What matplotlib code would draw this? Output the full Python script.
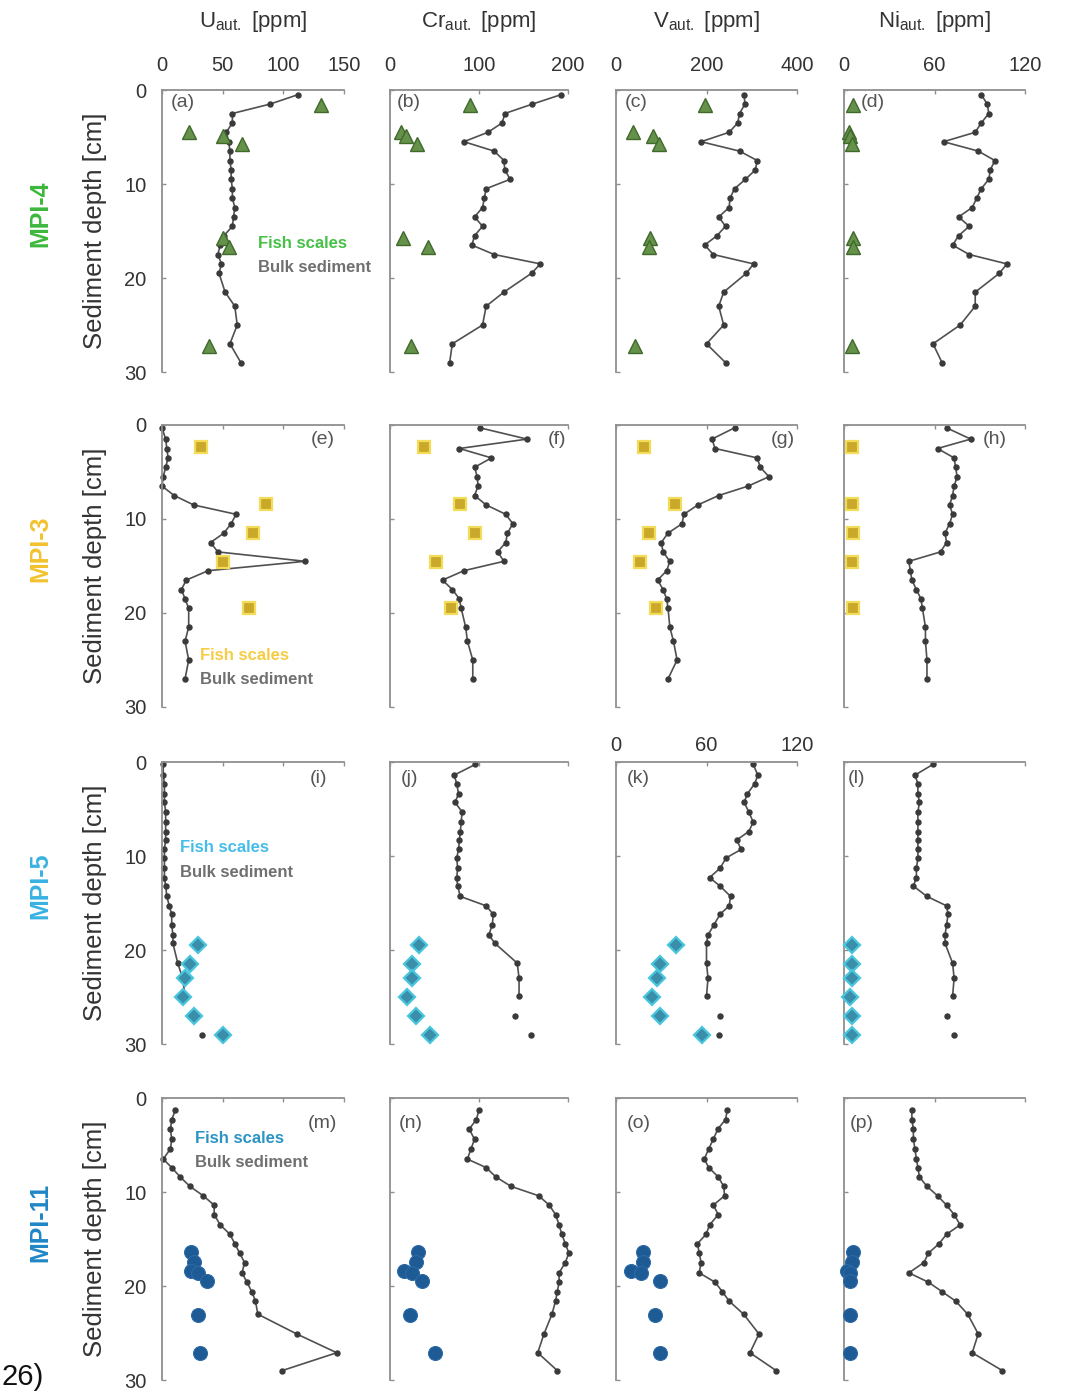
"""
Authigenic U, Cr, V and Ni depth profiles for four cores:
fish scales vs bulk sediment.
"""
import matplotlib.pyplot as plt

plt.rcParams['font.family'] = ['Liberation Sans', 'DejaVu Sans']
plt.rcParams['mathtext.fontset'] = 'custom'
plt.rcParams['mathtext.rm'] = 'Liberation Sans'

# ---- MPI-4 -------------------------------------------------------------
depth4 = [0.5, 1.5, 2.5, 3.5, 4.5, 5.5, 6.5, 7.5, 8.5, 9.5, 10.5, 11.5, 12.5,
          13.5, 14.5, 15.5, 16.5, 17.5, 18.5, 19.5, 21.5, 23, 25, 27, 29]
u4 = [112, 89, 58, 58, 53, 55, 56, 56, 57, 57, 58, 58, 60, 59, 58, 51, 48, 46,
      49, 47, 52, 60, 62, 56, 65]
cr4 = [192, 160, 129, 126, 110, 83, 117, 128, 129, 135, 108, 106, 104, 95, 104,
       95, 92, 117, 169, 159, 128, 108, 104, 70, 67]
v4 = [283, 285, 273, 269, 250, 188, 273, 312, 308, 286, 262, 252, 250, 227, 242,
      223, 196, 215, 304, 288, 238, 227, 238, 200, 242]
ni4 = [91, 95, 96, 91, 87, 66, 89, 100, 97, 96, 91, 88, 85, 76, 83, 76, 72, 83,
       108, 103, 87, 87, 77, 59, 65]
fish4_depth = [1.6, 4.5, 4.9, 5.7, 15.7, 16.7, 27.2]
fish4_u = [131, 22, 50, 66, 50, 55, 39]
fish4_cr = [90, 12, 18, 30, 15, 43, 24]
fish4_v = [196, 38, 81, 96, 75, 73, 42]
fish4_ni = [6, 3, 4, 5, 6, 6, 5]

# ---- MPI-3 -------------------------------------------------------------
depth3 = [0.3, 1.5, 2.5, 3.5, 4.5, 5.5, 6.5, 7.5, 8.5, 9.5, 10.5, 11.5, 12.5,
          13.5, 14.5, 15.5, 16.5, 17.5, 18.5, 19.5, 21.5, 23, 25, 27]
u3 = [0, 3, 4, 5, 3, 1, 0, 10, 26, 61, 57, 51, 40, 46, 118, 38, 20, 16, 19, 22,
      22, 19, 22, 19]
cr3 = [101, 154, 78, 114, 95, 98, 99, 95, 108, 130, 138, 132, 130, 121, 128, 83,
       59, 70, 78, 80, 85, 87, 93, 93]
v3 = [262, 212, 219, 312, 319, 338, 292, 227, 181, 150, 146, 115, 100, 104, 119,
      112, 92, 104, 112, 115, 119, 127, 135, 115]
ni3 = [68, 84, 62, 73, 74, 75, 73, 72, 70, 72, 70, 67, 68, 64, 43, 44, 45, 48,
       51, 52, 54, 54, 55, 55]
fish3_depth = [2.3, 8.4, 11.5, 14.6, 19.5]
fish3_u = [32, 86, 75, 50, 72]
fish3_cr = [38, 79, 96, 52, 68]
fish3_v = [62, 131, 73, 54, 88]
fish3_ni = [5, 5, 6, 5, 6]

# ---- MPI-5 -------------------------------------------------------------
depth5 = [0.25, 1.4, 2.3, 3.4, 4.3, 5.3, 6.4, 7.4, 8.3, 9.3, 10.2, 11.3, 12.3,
          13.2, 14.3, 15.3, 16.2, 17.3, 18.4, 19.3, 21.4, 23.0, 24.9]
u5 = [1, 1, 2, 2, 2, 3, 3, 3, 3, 2, 2, 2, 2, 3, 4, 6, 8, 8, 9, 9, 13, 17, 19]
cr5 = [96, 72, 75, 77, 73, 81, 80, 79, 78, 77, 75, 76, 75, 76, 79, 108, 116,
       115, 111, 118, 143, 145, 145]
v5 = [91, 94, 92, 87, 85, 88, 91, 88, 80, 83, 73, 69, 62, 69, 76, 75, 69, 65,
      61, 60, 60, 61, 60]
ni5 = [59, 47, 49, 49, 50, 49, 49, 49, 49, 49, 49, 48, 48, 46, 55, 68, 69, 68,
       67, 67, 72, 73, 72]
# two deepest bulk samples are plotted unconnected
depth5_iso = [27.0, 29.0]
u5_iso = [26, 33]
cr5_iso = [140, 158]
v5_iso = [69, 68]
ni5_iso = [68, 73]
fish5_depth = [19.5, 21.5, 23.0, 25.0, 27.0, 29.0]
fish5_u = [30, 23, 19, 17, 26, 50]
fish5_cr = [33, 25, 25, 19, 29, 45]
fish5_v = [40, 29, 27, 24, 29, 57]
fish5_ni = [5, 5, 5, 4, 5, 5]

# ---- MPI-11 ------------------------------------------------------------
depth11 = [1.3, 2.3, 3.3, 4.4, 5.4, 6.5, 7.4, 8.4, 9.4, 10.4, 11.4, 12.4, 13.5,
           14.5, 15.5, 16.5, 17.5, 18.6, 19.6, 20.6, 21.6, 23.0, 25.1, 27.1, 29.0]
u11 = [11, 8, 7, 8, 7, 1, 8, 15, 23, 34, 43, 43, 48, 56, 60, 64, 68, 66, 70, 74,
       77, 79, 111, 144, 99]
cr11 = [100, 97, 89, 95, 91, 87, 108, 119, 136, 167, 179, 186, 190, 193, 197,
        201, 197, 190, 190, 188, 186, 182, 173, 166, 188]
v11 = [246, 242, 225, 215, 205, 195, 205, 226, 238, 240, 215, 226, 207, 199,
       180, 184, 188, 184, 219, 235, 250, 282, 316, 296, 354]
ni11 = [45, 45, 46, 46, 47, 48, 49, 50, 55, 62, 68, 73, 77, 68, 63, 56, 53, 43,
        56, 65, 74, 82, 89, 85, 105]
fish11_depth = [16.4, 17.4, 18.4, 18.6, 19.5, 23.1, 27.1]
fish11_u = [24, 26, 24, 30, 37, 30, 31]
fish11_cr = [32, 29, 16, 25, 36, 22, 51]
fish11_v = [60, 60, 33, 56, 98, 87, 98]
fish11_ni = [6, 5, 2, 4, 4, 4, 4]

col_titles = [r'U$_{\mathrm{aut.}}$ [ppm]', r'Cr$_{\mathrm{aut.}}$ [ppm]',
              r'V$_{\mathrm{aut.}}$ [ppm]', r'Ni$_{\mathrm{aut.}}$ [ppm]']
col_xmax = [150, 200, 400, 120]
col_xticks = [[0, 50, 100, 150], [0, 100, 200], [0, 200, 400], [0, 60, 120]]
cores = ['MPI-4', 'MPI-3', 'MPI-5', 'MPI-11']
core_colors = ['#3cb83c', '#f2c22e', '#38b2e2', '#1f86c6']
fish_text_colors = ['#46c046', '#f6cc44', '#46bce8', '#2c94c4']
panel_letters = 'abcdefghijklmnop'

# marker styles for fish scales per core
fish_styles = [
    dict(marker='^', ms=10.5, mfc='#66914a', mec='#3f6a2c', mew=1.0),
    dict(marker='s', ms=9, mfc='#c9a82a', mec='#f3dc5a', mew=1.6),
    dict(marker='D', ms=8, mfc='#3a8eaa', mec='#49c6dd', mew=1.6),
    dict(marker='o', ms=10, mfc='#1e5a94', mec='#2a6aa6', mew=0.8),
]

BULK = '#505050'
SPINE = '#8f8f8f'

# figure layout in pixels (figure is 1068 x 1400)
FW, FH = 1068, 1400
col_left = [162, 390, 616, 844]
col_width = [182, 178, 181, 181]
row_top = [90, 425, 762, 1098]
row_h = 282

# panel label placement (x frac, ha) per panel
label_pos = [(0.05, 'left'), (0.04, 'left'), (0.05, 'left'), (0.09, 'left'),
             (0.95, 'right'), (0.99, 'right'), (0.99, 'right'), (0.90, 'right'),
             (0.91, 'right'), (0.06, 'left'), (0.06, 'left'), (0.02, 'left'),
             (0.96, 'right'), (0.05, 'left'), (0.06, 'left'), (0.03, 'left')]
label_y = [0.955, 0.948, 0.943, 0.91]
# legend text anchor (x frac, y frac of "Fish scales") per row
legend_pos = [(0.53, 0.457), (0.21, 0.184), (0.10, 0.696), (0.18, 0.858)]

data = [
    (depth4, [u4, cr4, v4, ni4], fish4_depth, [fish4_u, fish4_cr, fish4_v, fish4_ni], None),
    (depth3, [u3, cr3, v3, ni3], fish3_depth, [fish3_u, fish3_cr, fish3_v, fish3_ni], None),
    (depth5, [u5, cr5, v5, ni5], fish5_depth, [fish5_u, fish5_cr, fish5_v, fish5_ni],
     (depth5_iso, [u5_iso, cr5_iso, v5_iso, ni5_iso])),
    (depth11, [u11, cr11, v11, ni11], fish11_depth, [fish11_u, fish11_cr, fish11_v, fish11_ni], None),
]


def make_axes(fig, r, c):
    left = col_left[c] / FW
    width = col_width[c] / FW
    bottom = 1 - (row_top[r] + row_h) / FH
    return fig.add_axes([left, bottom, width, row_h / FH])


fig = plt.figure(figsize=(FW / 100, FH / 100), dpi=100)

for r in range(4):
    depth, bulk, fdepth, fish, iso = data[r]
    for c in range(4):
        ax = make_axes(fig, r, c)
        xmax = col_xmax[c]
        xticks = col_xticks[c]
        if r == 2 and c == 2:
            xmax = 120
            xticks = [0, 60, 120]

        ax.plot(bulk[c], depth, '-o', color=BULK, lw=1.2, ms=3.6,
                mfc='#3a3a3a', mec='#3a3a3a', zorder=2, clip_on=False)
        if iso is not None:
            ax.plot(iso[1][c], iso[0], 'o', ms=3.6, mfc='#3a3a3a',
                    mec='#3a3a3a', zorder=2)
        ax.plot(fish[c], fdepth, linestyle='none', zorder=3, clip_on=False,
                **fish_styles[r])

        ax.set_xlim(0, xmax)
        ax.set_ylim(30, 0)
        ax.set_xticks(xticks)
        ax.set_yticks([0, 10, 20, 30])
        ax.xaxis.tick_top()
        for s in ['right', 'bottom']:
            ax.spines[s].set_visible(False)
        for s in ['left', 'top']:
            ax.spines[s].set_color(SPINE)
            ax.spines[s].set_linewidth(1.3)
        ax.tick_params(axis='both', direction='in', length=3, width=1,
                       color=SPINE, labelsize=14.5, labelcolor='#333333')
        ax.tick_params(axis='x', pad=11)
        ax.tick_params(axis='y', pad=11)
        if c != 0:
            ax.set_yticklabels([])
        if not (r == 0 or (r == 2 and c == 2)):
            ax.set_xticklabels([])
        if r == 2 and c == 2:
            ax.tick_params(axis='x', pad=5)
        ax.set_facecolor('none')

        k = r * 4 + c
        lx, ha = label_pos[k]
        ax.text(lx, label_y[r], '(%s)' % panel_letters[k], transform=ax.transAxes,
                ha=ha, va='center', fontsize=14, color='#555555')

        if c == 0:
            fx, fy = legend_pos[r]
            ax.text(fx, fy, 'Fish scales', transform=ax.transAxes, ha='left',
                    va='center', fontsize=12, fontweight='bold',
                    color=fish_text_colors[r], clip_on=False)
            ax.text(fx, fy - 0.088, 'Bulk sediment', transform=ax.transAxes,
                    ha='left', va='center', fontsize=12, fontweight='bold',
                    color='#707070', clip_on=False)

    yc = 1 - (row_top[r] + row_h / 2) / FH
    fig.text(95 / FW, yc, 'Sediment depth [cm]', rotation=90, ha='center',
             va='center', fontsize=18.5, color='#333333')
    fig.text(40 / FW, yc + 0.012, cores[r], rotation=90, ha='center',
             va='center', fontsize=18, fontweight='bold', color=core_colors[r])

# column titles
for c in range(4):
    xc = (col_left[c] + col_width[c] / 2) / FW
    fig.text(xc, 1 - 22 / FH, col_titles[c], ha='center', va='center',
             fontsize=16, color='#333333')

fig.text(0.001, 1 - 1377 / FH, '26)', ha='left', va='center', fontsize=21,
         color='#111111')

fig.savefig('out.png', dpi=100, facecolor='white')
